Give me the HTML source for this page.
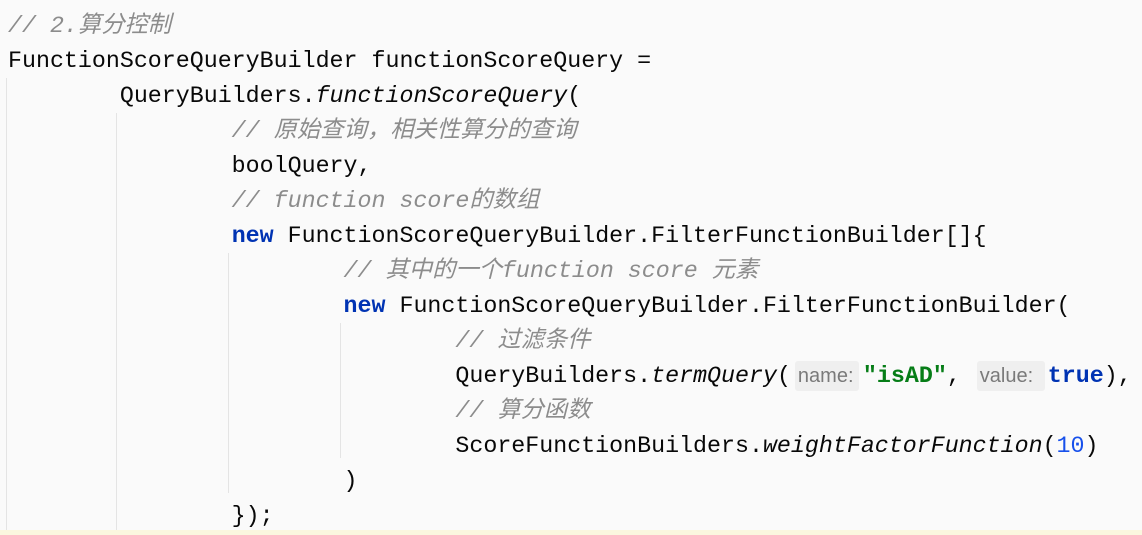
<!DOCTYPE html>
<html><head><meta charset="utf-8"><style>
html,body{margin:0;padding:0;}
body{width:1142px;height:535px;background:#fafafa;position:relative;overflow:hidden;font-family:"Liberation Mono","Noto Sans CJK SC",monospace;font-size:23.3px;color:#080808;}
.l{position:absolute;left:8px;height:35px;line-height:35px;white-space:pre;}
.c{color:#8c8c8c;font-style:italic;}
.i{font-style:italic;}
.k{color:#0033b3;font-weight:bold;}
.s{color:#067d17;font-weight:bold;}
.n{color:#1750eb;}
.h{display:inline-block;box-sizing:border-box;height:30px;line-height:30px;vertical-align:middle;font-family:"Liberation Sans",sans-serif;font-size:20px;color:#7a7a7a;background:#efefef;border-radius:3px;padding:0 3px;font-style:normal;}
.g{position:absolute;width:1px;background:#e4e4e4;}
.y{position:absolute;left:0;top:530px;width:1142px;height:5px;background:#fbf6df;}
</style></head><body>
<div class="g" style="left:6px;top:78px;height:452px"></div>
<div class="g" style="left:116px;top:113px;height:417px"></div>
<div class="g" style="left:228px;top:253px;height:240px"></div>
<div class="g" style="left:340px;top:323px;height:135px"></div>
<div class="l c" style="top:9px">// 2.算分控制</div>
<div class="l" style="top:44px">FunctionScoreQueryBuilder functionScoreQuery =</div>
<div class="l" style="top:79px">        QueryBuilders.<span class="i">functionScoreQuery</span>(</div>
<div class="l c" style="top:114px">                // 原始查询，相关性算分的查询</div>
<div class="l" style="top:149px">                boolQuery,</div>
<div class="l c" style="top:184px">                // function score的数组</div>
<div class="l" style="top:219px">                <span class="k">new</span> FunctionScoreQueryBuilder.FilterFunctionBuilder[]{</div>
<div class="l c" style="top:254px">                        // 其中的一个function score 元素</div>
<div class="l" style="top:289px">                        <span class="k">new</span> FunctionScoreQueryBuilder.FilterFunctionBuilder(</div>
<div class="l c" style="top:324px">                                // 过滤条件</div>
<div class="l" style="top:359px">                                QueryBuilders.<span class="i">termQuery</span>(<span class="h" style="width:64px;margin:0 4px 0 4px">name:</span><span class="s">"isAD"</span>,<span class="h" style="width:68px;margin:0 3px 0 16px">value:</span><span class="k">true</span>),</div>
<div class="l c" style="top:394px">                                // 算分函数</div>
<div class="l" style="top:429px">                                ScoreFunctionBuilders.<span class="i">weightFactorFunction</span>(<span class="n">10</span>)</div>
<div class="l" style="top:464px">                        )</div>
<div class="l" style="top:499px">                });</div>
<div class="y"></div>
</body></html>
